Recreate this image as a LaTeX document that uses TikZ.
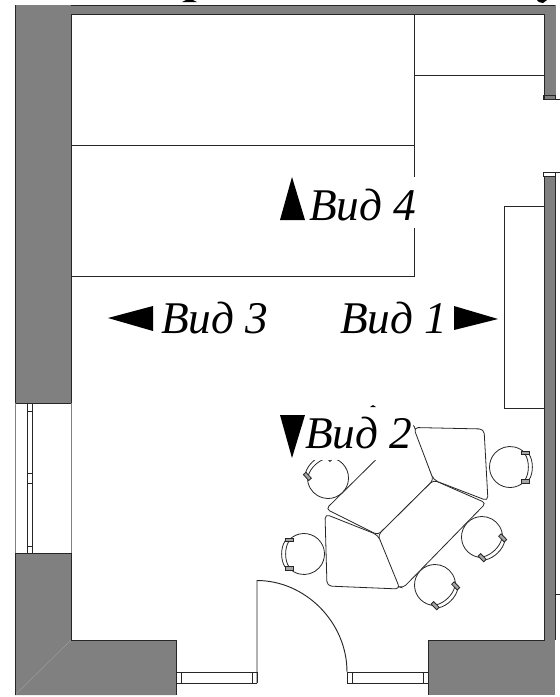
\documentclass[tikz,border=0pt]{standalone}
\usepackage{fontspec}
\setmainfont{Liberation Serif}
\tikzset{
  x=0.75pt,y=-0.75pt,
  wline/.style={draw=black!85,line width=0.75pt},
  thin line/.style={draw=black!85,line width=0.7pt},
  seat/.style={draw=black!85,line width=0.6pt,fill=white},
  cap label/.style={font=\fontsize{34pt}{36pt}\selectfont\itshape,fill=white,inner sep=0pt,text height=32pt,text depth=6pt},
  tri/.style={fill=black,draw=none},
}
\definecolor{wallgray}{HTML}{808080}
\newcommand{\chairseat}[3]{%
  \begin{scope}[shift={(#1,#2)},rotate=#3]
    \draw[seat,fill=none] (43:20.5) arc[start angle=43,end angle=317,radius=20.5];
    \draw[seat,fill=none] (19,-13) .. controls (23.5,-6) and (23.5,6) .. (19,13);
    \draw[seat,fill=none] (15,-13) .. controls (19.5,-6) and (19.5,6) .. (15,13);
    \draw[seat,fill=black!35] (11,-16) rectangle (19,-12.5);
    \draw[seat,fill=black!35] (11,12.5) rectangle (19,16);
  \end{scope}}
\begin{document}
\begin{tikzpicture}
\useasboundingbox (0,0) rectangle (560,697);
% clipped title fragments
\fill[black] (182,2) -- (197,2) -- (193,0) -- (186,0) -- cycle;
\fill[black] (537,0) -- (547,0) -- (543,3) -- (539,2) -- cycle;
% walls
\fill[wallgray] (15,5) -- (555,5) -- (555,99) -- (544,99) -- (544,14.5) -- (71,14.5) -- (71,403) -- (15,403) -- cycle;
\fill[wallgray] (544,176) -- (555,176) -- (555,640) -- (544,640) -- cycle;
\fill[wallgray] (15,553) -- (71,553) -- (71,640) -- (176,640) -- (176,695) -- (15,695) -- cycle;
\fill[wallgray] (428,640) -- (555,640) -- (555,695) -- (428,695) -- cycle;
\draw[black!40,line width=0.4pt] (71,640) -- (15,695);
% wall outlines
\draw[wline] (15,695) -- (15,553) (15,403) -- (15,5);
\draw[wline] (71,5) -- (555,5);
\draw[black!50,line width=0.5pt] (555,5) -- (555,99);
\draw[wline] (555,176) -- (555,640) (555,594) -- (560,594);
\draw[wline] (71,403) -- (71,14.5) -- (544,14.5) -- (544,99);
\draw[wline] (544,176) -- (544,640) -- (428,640) -- (428,695);
\draw[wline] (15,403) -- (71,403) (15,553) -- (71,553) -- (71,640) -- (176,640) -- (176,695);
\draw[wline,draw=black!50] (71,403) -- (71,553) (15,403) -- (15,553);
% right window
\draw[thin line] (543,95.5) rectangle (555,99.5) (555,99.5) -- (560,99.5);
\draw[thin line] (543,172) rectangle (555,176) (555,172) -- (560,172);
% left window
\draw[thin line] (27,403) -- (27,553) (32.5,403) -- (32.5,553);
\foreach \ty in {411,473,483,546} \draw[thin line] (27,\ty) -- (32.5,\ty);
% bottom windows
\draw[thin line] (176,672) -- (257,672) (176,683) -- (257,683);
\draw[thin line] (347,672) -- (428,672) (347,683) -- (428,683);
\foreach \tx in {181,252,352,423} \draw[thin line] (\tx,672) -- (\tx,683);
\draw[thin line] (176,672) -- (176,683) (257,672) -- (257,683) (347,672) -- (347,683) (428,672) -- (428,683);
% door
\draw[thin line] (257,683) -- (257,580.5) .. controls (305,580.5) and (347,622) .. (347,672);
% beds and furniture
\draw[thin line] (71,145.5) -- (414,145.5) (71,276) -- (414,276) -- (414,14.5);
\draw[thin line] (414,75) -- (544,75);
\draw[thin line] (544,206) -- (504,206) -- (504,408) -- (544,408);
% chairs
\chairseat{328}{478}{132}
\chairseat{510}{467}{0}
\chairseat{482}{537}{-46}
\chairseat{435}{585}{-46}
\chairseat{304}{554}{180}
% table pieces
\draw[seat,rounded corners=3pt] (326,509) -- (413,423) -- (433.5,480) -- (378,535) -- cycle;
\draw[seat,rounded corners=3pt] (433.5,480) -- (486,503) -- (403,588) -- (396,586) -- (378,535) -- cycle;
\draw[seat,rounded corners=3.5pt] (413.5,427.5) -- (484,429) -- (488,501) -- (433.5,480) -- cycle;
\draw[seat,rounded corners=3.5pt] (325,514) -- (378,535) -- (400,589) -- (327,586) -- cycle;
% labels
\node[cap label,anchor=base west] (v4) at (309,220) {Вид 4};
\node[cap label,anchor=base west] (v3) at (161,333) {Вид 3};
\node[cap label,anchor=base west] (v1) at (340,333) {Вид 1};
\node[cap label,anchor=base west,text depth=9pt] (v2) at (305,448) {Вид 2};
% arrows
\fill[tri] (292,177) -- (305,220) -- (280,220) -- cycle;
\fill[tri] (292,458) -- (305,415) -- (280,415) -- cycle;
\fill[tri] (108,318) -- (153,306) -- (153,331) -- cycle;
\fill[tri] (498,319) -- (454,306) -- (454,330) -- cycle;
\fill[black] (370,407) -- (373,405) -- (376,407) -- cycle;
\end{tikzpicture}
\end{document}
